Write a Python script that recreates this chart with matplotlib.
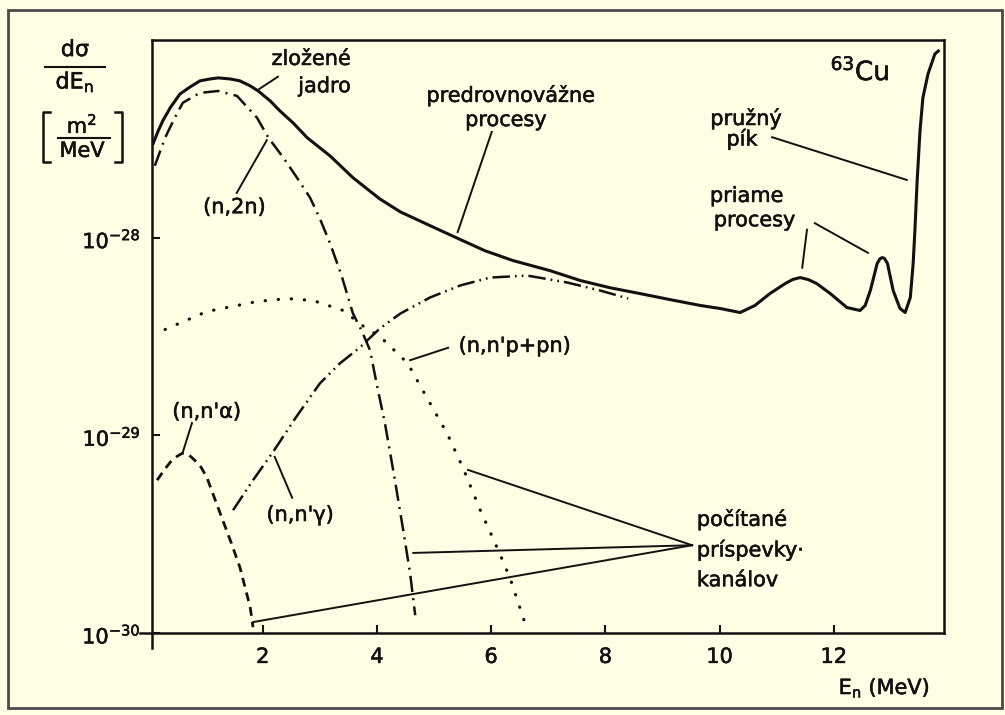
import matplotlib
matplotlib.use('Agg')
import matplotlib.pyplot as plt
import matplotlib.patches as mpatches
import matplotlib.patheffects as pe
from matplotlib.lines import Line2D
import numpy as np

plt.rcParams['font.family'] = ['DejaVu Sans']
plt.rcParams['mathtext.default'] = 'regular'

bg = '#FEFEE4'
ink = '#111111'

# total emission spectrum (solid)
E_tot = [0.08, 0.17, 0.25, 0.38, 0.55, 0.73, 0.90, 1.08, 1.22, 1.43, 1.60, 1.78, 1.92, 2.13, 2.30,
         2.53, 2.78, 3.18, 3.58, 4.05, 4.41, 4.93, 5.42, 5.89, 6.38, 7.03, 7.56, 8.08, 8.61, 9.13,
         9.66, 10.01, 10.36, 10.62, 10.88, 11.15, 11.28, 11.41, 11.55, 11.70, 11.94, 12.23, 12.46,
         12.55, 12.64, 12.76, 12.81, 12.85, 12.89, 12.94, 13.04, 13.16, 13.25, 13.34, 13.39, 13.42,
         13.46, 13.51, 13.56, 13.65, 13.77, 13.83]
S_tot = [2.99e-28, 3.47e-28, 3.90e-28, 4.54e-28, 5.33e-28, 5.79e-28, 6.21e-28, 6.35e-28, 6.43e-28,
         6.35e-28, 6.21e-28, 5.86e-28, 5.52e-28, 4.92e-28, 4.38e-28, 3.81e-28, 3.20e-28, 2.59e-28,
         2.01e-28, 1.57e-28, 1.35e-28, 1.15e-28, 9.9e-29, 8.59e-29, 7.66e-29, 6.81e-29, 6.07e-29,
         5.58e-29, 5.21e-29, 4.86e-29, 4.54e-29, 4.38e-29, 4.18e-29, 4.54e-29, 5.21e-29, 5.86e-29,
         6.14e-29, 6.28e-29, 6.14e-29, 5.86e-29, 5.21e-29, 4.43e-29, 4.28e-29, 4.54e-29, 5.40e-29,
         7.40e-29, 7.83e-29, 7.93e-29, 7.83e-29, 7.40e-29, 5.40e-29, 4.38e-29, 4.18e-29, 4.98e-29,
         7.40e-29, 1.08e-28, 1.94e-28, 3.47e-28, 5.09e-28, 6.73e-28, 8.49e-28, 8.79e-28]

# (n,2n)
E_2n = [0.11, 0.29, 0.45, 0.60, 0.90, 1.22, 1.55, 1.90, 2.10, 2.36, 2.60, 2.83, 3.00, 3.18, 3.38,
        3.58, 3.73, 3.88, 4.00, 4.14, 4.30, 4.46, 4.58, 4.67]
S_2n = [2.31e-28, 3.20e-28, 3.99e-28, 4.81e-28, 5.40e-28, 5.52e-28, 5.21e-28, 4.04e-28, 3.20e-28,
        2.54e-28, 2.01e-28, 1.59e-28, 1.25e-28, 9.33e-29, 6.43e-29, 4.13e-29, 3.39e-29, 2.69e-29,
        1.79e-29, 1.15e-29, 6.28e-30, 3.31e-30, 2.01e-30, 1.23e-30]

# (n,n'p+pn)
E_np = [0.29, 1.02, 1.90, 2.43, 2.88, 3.41, 3.74, 4.07, 4.54, 4.88, 5.23, 5.51, 5.81, 6.10, 6.33, 6.63]
S_np = [3.43e-29, 4.23e-29, 4.75e-29, 4.92e-29, 4.81e-29, 4.28e-29, 3.60e-29, 3.13e-29, 2.31e-29,
        1.54e-29, 1.02e-29, 6.81e-30, 4.18e-30, 2.72e-30, 1.90e-30, 1.04e-30]

# (n,n'gamma)
E_ng = [1.48, 1.83, 2.20, 2.57, 3.00, 3.35, 3.70, 4.05, 4.41, 4.93, 5.46, 5.98, 6.63, 7.33, 7.91, 8.40]
S_ng = [4.18e-30, 5.93e-30, 8.40e-30, 1.22e-29, 1.83e-29, 2.31e-29, 2.78e-29, 3.47e-29, 4.13e-29,
        4.98e-29, 5.73e-29, 6.28e-29, 6.43e-29, 5.93e-29, 5.40e-29, 4.92e-29]

# (n,n'alpha)
E_na = [0.15, 0.27, 0.38, 0.50, 0.59, 0.70, 0.81, 0.92, 1.02, 1.15, 1.30, 1.45, 1.60, 1.78, 1.83]
S_na = [5.93e-30, 6.65e-30, 7.31e-30, 7.83e-30, 8.11e-30, 7.99e-30, 7.48e-30, 6.89e-30, 6.14e-30,
        4.86e-30, 3.72e-30, 2.85e-30, 2.15e-30, 1.35e-30, 1.07e-30]

xticks = [2, 4, 6, 8, 10, 12]
yticks = [1e-30, 1e-29, 1e-28]

fig = plt.figure(figsize=(10.05, 7.15), dpi=100, facecolor=bg)
ax = fig.add_axes([0.1512, 0.1147, 0.7881, 0.8294])
ax.set_facecolor(bg)

ax.plot(E_tot, S_tot, color=ink, lw=2.2, solid_joinstyle='round')
ax.plot(E_2n, S_2n, color=ink, lw=1.8, dashes=[6.5, 2.5, 0.8, 2.5])
ax.plot(E_np, S_np, color=ink, lw=2.3, dashes=[0.1, 4.0], dash_capstyle='round')
ax.plot(E_ng, S_ng, color=ink, lw=1.8, dashes=[7, 2, 0.7, 2, 0.7, 2])
ax.plot(E_na, S_na, color=ink, lw=2.0, dashes=[3.2, 2.2])

ax.set_yscale('log')
ax.set_xlim(0.06, 13.93)
ax.set_ylim(1e-30, 1e-27)
ax.set_xticks(xticks)
ax.set_xticklabels([str(t) for t in xticks])
ax.set_yticks(yticks)
ax.set_yticklabels([r'$10^{-30}$', r'$10^{-29}$', r'$10^{-28}$'])
ax.yaxis.set_minor_locator(matplotlib.ticker.NullLocator())
ax.tick_params(direction='in', length=6, width=1.5, labelsize=15, color=ink, labelcolor=ink)
ax.tick_params(axis='x', pad=10)
ax.tick_params(axis='y', pad=8)
for s in ax.spines.values():
    s.set_linewidth(1.8)
    s.set_color(ink)

# short overhang of both axes at the origin
ax.plot([-0.015, 0], [0, 0], transform=ax.transAxes, color=ink, lw=1.8, clip_on=False)
ax.plot([0, 0], [-0.025, 0], transform=ax.transAxes, color=ink, lw=1.8, clip_on=False)

# leader lines (axes fraction)
leaders = [
    [(0.159, 0.938), (0.134, 0.916)],
    [(0.107, 0.742), (0.145, 0.831)],
    [(0.429, 0.845), (0.386, 0.676)],
    [(0.374, 0.481), (0.326, 0.460)],
    [(0.0505, 0.354), (0.039, 0.305)],
    [(0.177, 0.228), (0.155, 0.297)],
    [(0.783, 0.836), (0.953, 0.764)],
    [(0.827, 0.680), (0.821, 0.616)],
    [(0.837, 0.691), (0.904, 0.641)],
    [(0.682, 0.148), (0.399, 0.275)],
    [(0.682, 0.148), (0.330, 0.135)],
    [(0.682, 0.148), (0.128, 0.0185)],
]
for (x0, y0), (x1, y1) in leaders:
    ax.plot([x0, x1], [y0, y1], transform=ax.transAxes, color=ink, lw=1.4)

labels = [
    ('zložené', 0.201, 0.968, 'center'),
    ('jadro', 0.218, 0.922, 'center'),
    ('(n,2n)', 0.104, 0.718, 'center'),
    ('predrovnovážne', 0.453, 0.907, 'center'),
    ('procesy', 0.447, 0.865, 'center'),
    ("(n,n'p+pn)", 0.458, 0.484, 'center'),
    ("(n,n'α)", 0.069, 0.373, 'center'),
    ("(n,n'γ)", 0.187, 0.199, 'center'),
    ('pružný', 0.750, 0.868, 'center'),
    ('pík', 0.745, 0.833, 'center'),
    ('priame', 0.751, 0.737, 'center'),
    ('procesy', 0.761, 0.696, 'center'),
    ('počítané', 0.688, 0.192, 'left'),
    ('príspevky·', 0.688, 0.140, 'left'),
    ('kanálov', 0.688, 0.089, 'left'),
]
heavy = [pe.withStroke(linewidth=0.4, foreground=ink)]
for txt, fx, fy, ha in labels:
    ax.text(fx, fy, txt, transform=ax.transAxes, ha=ha, va='center', fontsize=15, color=ink,
            path_effects=heavy)

ax.text(0.894, 0.946, r'$^{63}$Cu', transform=ax.transAxes, ha='center', va='center',
        fontsize=19, color=ink, path_effects=heavy)

for lab in ax.get_xticklabels() + ax.get_yticklabels():
    lab.set_path_effects(heavy)

# axis titles
fig.text(0.880, 0.038, r'$E_n$ (MeV)', ha='center', va='center', fontsize=15, color=ink,
         path_effects=heavy)
fig.text(0.0746, 0.930, 'dσ', ha='center', va='center', fontsize=16, color=ink, path_effects=heavy)
fig.add_artist(Line2D([0.045, 0.104], [0.906, 0.906], color=ink, lw=1.5))
fig.text(0.0746, 0.885, r'$dE_n$', ha='center', va='center', fontsize=16, color=ink,
         path_effects=heavy)
fig.text(0.0816, 0.826, r'$m^2$', ha='center', va='center', fontsize=15, color=ink,
         path_effects=heavy)
fig.add_artist(Line2D([0.058, 0.109], [0.807, 0.807], color=ink, lw=1.5))
fig.text(0.0816, 0.789, 'MeV', ha='center', va='center', fontsize=15, color=ink, path_effects=heavy)
fig.add_artist(Line2D([0.050, 0.043, 0.043, 0.050], [0.843, 0.843, 0.773, 0.773], color=ink, lw=1.8))
fig.add_artist(Line2D([0.114, 0.121, 0.121, 0.114], [0.843, 0.843, 0.773, 0.773], color=ink, lw=1.8))

# outer frame
fig.add_artist(mpatches.Rectangle((0.008, 0.0098), 0.989, 0.976, transform=fig.transFigure,
                                  fill=False, edgecolor='#4a4a4a', lw=2))

plt.savefig('out.png', dpi=100, facecolor=bg)
